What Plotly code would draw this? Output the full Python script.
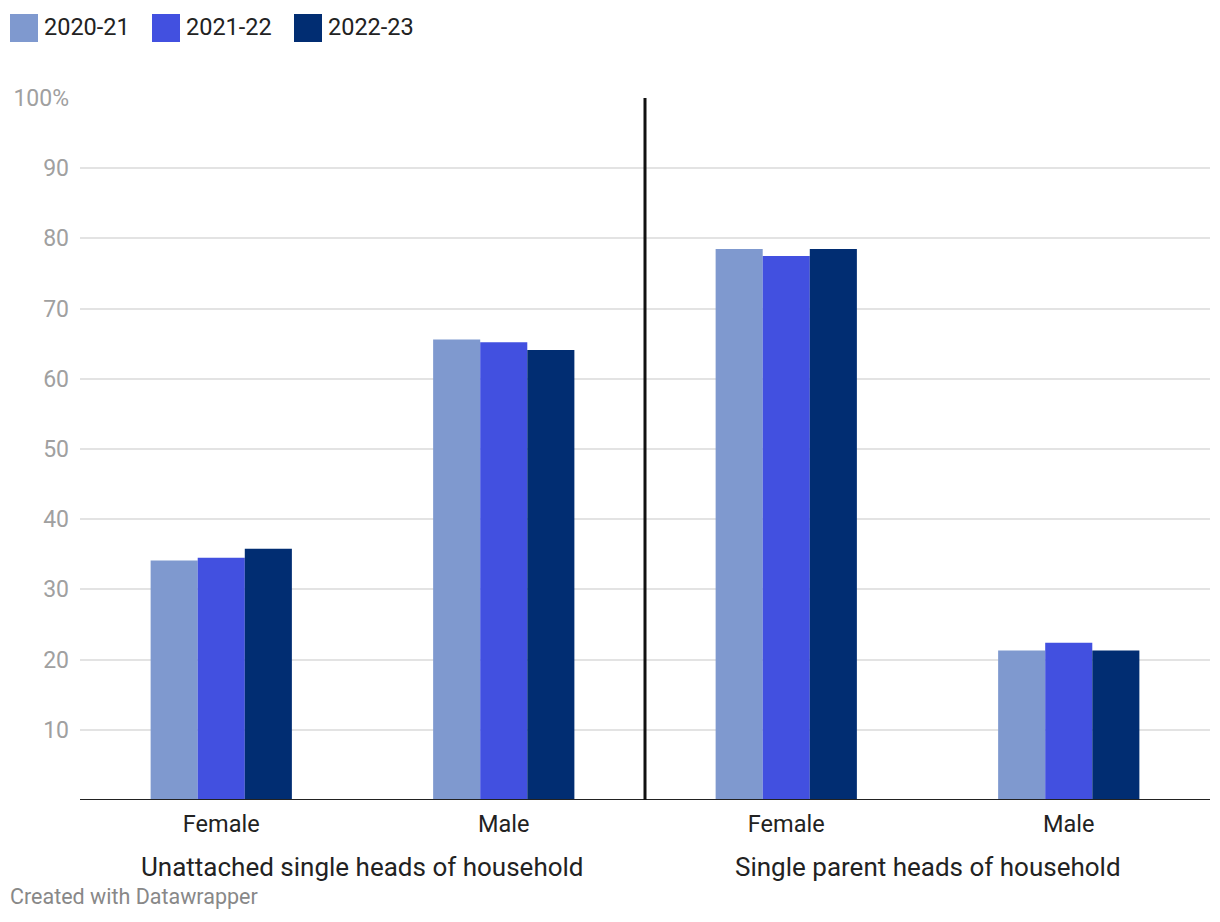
import plotly.graph_objects as go

categories = ["Female", "Male", "Female", "Male"]
groups = ["Unattached single heads of household", "Single parent heads of household"]
series_names = ["2020-21", "2021-22", "2022-23"]
values_2020_21 = [34.1, 65.6, 78.5, 21.3]
values_2021_22 = [34.5, 65.2, 77.5, 22.4]
values_2022_23 = [35.8, 64.1, 78.5, 21.3]
y_tick_vals = [10, 20, 30, 40, 50, 60, 70, 80, 90, 100]
y_tick_text = ["10", "20", "30", "40", "50", "60", "70", "80", "90", "100%"]
colors = ["#7f99cf", "#4250e0", "#012d72"]

all_values = [values_2020_21, values_2021_22, values_2022_23]
xpos = list(range(len(categories)))

L, R, T, B = 80, 10, 98, 122
W, H = 1220, 922
pw, ph = W - L - R, H - T - B

def px(x):
    return (x - L) / pw

def py(y):
    return (H - B - y) / ph

fig = go.Figure()
for name, vals, col in zip(series_names, all_values, colors):
    fig.add_trace(go.Bar(x=xpos, y=vals, name=name, marker=dict(color=col, line=dict(width=0)),
                         showlegend=False))

fig.update_layout(
    width=W, height=H,
    margin=dict(l=L, r=R, t=T, b=B),
    paper_bgcolor="white", plot_bgcolor="white",
    barmode="group", bargap=0.5, bargroupgap=0,
    font=dict(family="Roboto", color="#222222"),
    xaxis=dict(range=[-0.5, len(categories) - 0.5], tickvals=xpos, ticktext=categories,
               tickfont=dict(size=23.5, color="#222222"), showgrid=False, zeroline=False,
               showline=False, ticks="", ticklabelstandoff=7),
    yaxis=dict(range=[0, 100], tickvals=y_tick_vals, ticktext=y_tick_text,
               tickfont=dict(size=23, color="#a0a0a0"), showgrid=True, gridcolor="#e3e3e3",
               gridwidth=1.5, zeroline=False, showline=False, ticks="", ticklabelstandoff=10),
)

# baseline
fig.add_shape(type="line", xref="paper", yref="y", x0=0, x1=1, y0=0, y1=0,
              line=dict(color="#222222", width=2))
# divider between groups
fig.add_shape(type="line", xref="x", yref="y", x0=1.5, x1=1.5, y0=0, y1=100,
              line=dict(color="#111111", width=3))

# group labels
for i, g in enumerate(groups):
    fig.add_annotation(x=2 * i + 0.5, xref="x", y=py(867), yref="paper", text=g,
                       showarrow=False, font=dict(size=26, color="#222222"),
                       xanchor="center", yanchor="middle")

# custom legend
lx = 10
for name, col in zip(series_names, colors):
    fig.add_shape(type="rect", xref="paper", yref="paper",
                  x0=px(lx), x1=px(lx + 28), y0=py(14), y1=py(42),
                  fillcolor=col, line=dict(width=0))
    fig.add_annotation(x=px(lx + 32), xref="paper", y=py(27), yref="paper", text=name,
                       showarrow=False, font=dict(size=23.5, color="#222222"),
                       xanchor="left", yanchor="middle")
    lx += 142

fig.add_annotation(x=px(8), xref="paper", y=py(896), yref="paper", text="Created with Datawrapper",
                   showarrow=False, font=dict(size=21.5, color="#888888"),
                   xanchor="left", yanchor="middle")

fig.write_html("out.html")
